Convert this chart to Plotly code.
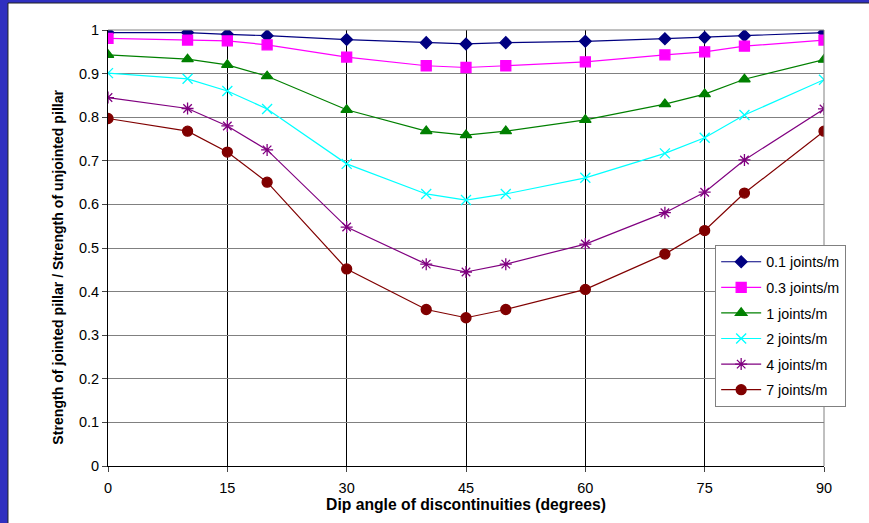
import plotly.graph_objects as go

dip = [0, 10, 15, 20, 30, 40, 45, 50, 60, 70, 75, 80, 90]
j01 = [0.994, 0.994, 0.990, 0.987, 0.978, 0.971, 0.968, 0.971, 0.974, 0.980, 0.983, 0.987, 0.994]
j03 = [0.981, 0.977, 0.975, 0.966, 0.938, 0.918, 0.914, 0.918, 0.927, 0.943, 0.950, 0.963, 0.977]
j1 = [0.943, 0.933, 0.920, 0.894, 0.817, 0.768, 0.759, 0.768, 0.794, 0.830, 0.853, 0.887, 0.932]
j2 = [0.901, 0.888, 0.860, 0.819, 0.693, 0.624, 0.610, 0.624, 0.661, 0.717, 0.753, 0.805, 0.886]
j4 = [0.845, 0.820, 0.780, 0.725, 0.548, 0.463, 0.445, 0.463, 0.509, 0.581, 0.628, 0.702, 0.819]
j7 = [0.797, 0.768, 0.720, 0.651, 0.452, 0.359, 0.340, 0.359, 0.405, 0.486, 0.540, 0.626, 0.768]
names = ["0.1 joints/m", "0.3 joints/m", "1 joints/m", "2 joints/m", "4 joints/m", "7 joints/m"]
xticks = [0, 15, 30, 45, 60, 75, 90]
yticks = [0, 0.1, 0.2, 0.3, 0.4, 0.5, 0.6, 0.7, 0.8, 0.9, 1]

series = [j01, j03, j1, j2, j4, j7]
colors = ["#000080", "#ff00ff", "#008000", "#00ffff", "#800080", "#800000"]
symbols = ["diamond", "square", "triangle-up", "x-thin-open", "asterisk-open", "circle"]
sizes = [9, 10, 10, 10, 10, 10]

fig = go.Figure()
for i, (s, n, c, sym, sz) in enumerate(zip(series, names, colors, symbols, sizes)):
    fig.add_trace(go.Scatter(
        x=dip, y=s, name=n, mode="lines+markers", legendgroup=f"g{i}",
        line=dict(color=c, width=1.2),
        marker=dict(symbol=sym, color=c, size=sz, line=dict(color=c, width=1.3)),
    ))

# blue frame with white panel
fig.add_shape(type="rect", xref="paper", yref="paper",
              x0=-0.1397, x1=1.2, y0=-0.3, y1=1.0619,
              fillcolor="white", line=dict(color="#202020", width=1), layer="below")

fig.add_annotation(text="<b>Strength of jointed pillar / Strength of unjointed pillar</b>",
                   xref="paper", yref="paper", x=-0.0698, y=0.455,
                   xanchor="center", yanchor="middle", textangle=-90,
                   showarrow=False, font=dict(size=14.1))

fig.update_layout(
    width=869, height=523,
    paper_bgcolor="#3030c0", plot_bgcolor="white",
    margin=dict(l=108, r=45, t=30, b=57),
    font=dict(family="Liberation Sans, Arial", size=14.5, color="black"),
    showlegend=True,
    legend=dict(x=0.848, y=0.507, xanchor="left", yanchor="top",
                bgcolor="white", bordercolor="#808080", borderwidth=1,
                font=dict(size=14.3), itemwidth=40, tracegroupgap=4),
    xaxis=dict(range=[0, 90], tickvals=xticks, ticks="outside", ticklen=5,
               ticklabelstandoff=4,
               showgrid=True, gridcolor="black", gridwidth=1,
               showline=True, linecolor="black", linewidth=1, mirror=False,
               zeroline=False,
               title=dict(text="<b>Dip angle of discontinuities (degrees)</b>",
                          font=dict(size=15.7), standoff=2)),
    yaxis=dict(range=[0, 1], tickvals=yticks, ticks="outside", ticklen=5,
               showgrid=True, gridcolor="#808080", gridwidth=1,
               showline=True, linecolor="black", linewidth=1,
               zeroline=False),
)
# top and right borders in gray
fig.add_shape(type="line", xref="paper", yref="paper", x0=0, x1=1, y0=1, y1=1,
              line=dict(color="#808080", width=1))
fig.add_shape(type="line", xref="paper", yref="paper", x0=1, x1=1, y0=0, y1=1,
              line=dict(color="#808080", width=1))

fig.write_html("out.html", config={"displayModeBar": False},
               post_script="document.body.style.margin='0';document.body.style.overflow='hidden';")
